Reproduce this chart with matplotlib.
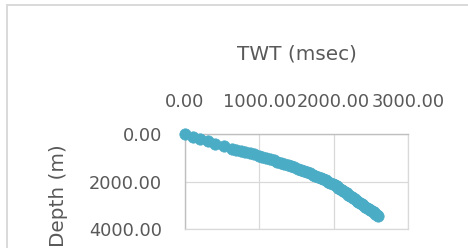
import matplotlib
matplotlib.use("Agg")
import matplotlib.pyplot as plt
from matplotlib.patches import Rectangle
from matplotlib.ticker import FormatStrFormatter

# TWT (msec) vs depth (m)
twt = [0, 101, 202, 306, 410, 518, 632, 690, 747, 808, 869, 930, 990, 1042,
       1093, 1143, 1193, 1243, 1292, 1337, 1381, 1426, 1471, 1515, 1559,
       1598, 1637, 1677, 1716, 1753, 1790, 1825, 1859, 1892, 1924, 1956,
       1987, 2013, 2039, 2062, 2084, 2107, 2130, 2153, 2175, 2198, 2220,
       2242, 2264, 2287, 2309, 2332, 2354, 2377, 2399, 2423, 2447, 2470,
       2492, 2515, 2537, 2560, 2582, 2600]
depth = [0, 100, 200, 300, 400, 500, 600, 650, 700, 750, 800, 850, 900, 950,
         1000, 1050, 1100, 1150, 1200, 1250, 1300, 1350, 1400, 1450, 1500,
         1550, 1600, 1650, 1700, 1750, 1800, 1850, 1900, 1950, 2000, 2050,
         2100, 2150, 2200, 2250, 2300, 2350, 2400, 2450, 2500, 2550, 2600,
         2650, 2700, 2750, 2800, 2850, 2900, 2950, 3000, 3050, 3100, 3150,
         3200, 3250, 3300, 3350, 3400, 3440]

x_ticks = [0, 1000, 2000, 3000]
y_ticks = [0, 2000, 4000]

plt.rcParams['font.family'] = ['DejaVu Sans']

W, H = 468, 248
fig = plt.figure(figsize=(W / 100, H / 100), dpi=100)

# chart border (light grey frame, cut off at right/bottom)
fig.patches.append(Rectangle((7.5 / W, -0.1), 1.2, 1 - 4.5 / H + 0.1,
                             transform=fig.transFigure, fill=False,
                             edgecolor='#d9d9d9', linewidth=1.4))

ax = fig.add_axes([185 / W, 1 - 229 / H, 223 / W, (229 - 134.3) / H])

ax.plot(twt, depth, 'o', color='#4bacc6', markersize=8.2,
        markeredgewidth=0.5, markeredgecolor='#4bacc6', clip_on=False, zorder=3)

ax.set_xlim(0, 3000)
ax.set_ylim(4000, 0)
ax.set_xticks(x_ticks)
ax.set_yticks(y_ticks)
ax.xaxis.set_major_formatter(FormatStrFormatter('%.2f'))
ax.yaxis.set_major_formatter(FormatStrFormatter('%.2f'))

ax.xaxis.tick_top()
ax.xaxis.set_label_position('top')
ax.tick_params(axis='x', length=0, pad=17, labelsize=12.8, labelcolor='#595959')
ax.tick_params(axis='y', length=0, pad=16.5, labelsize=12.8, labelcolor='#595959')

ax.grid(True, color='#d9d9d9', linewidth=0.9)
ax.set_axisbelow(True)
for side in ['right', 'bottom']:
    ax.spines[side].set_color('#d9d9d9')
    ax.spines[side].set_linewidth(0.9)
for side in ['left', 'top']:
    ax.spines[side].set_color('#bfbfbf')
    ax.spines[side].set_linewidth(1.0)

ax.set_xlabel('TWT (msec)', fontsize=14.4, color='#595959', labelpad=24)
ax.set_ylabel('Depth (m)', fontsize=14.4, color='#595959')
ax.yaxis.set_label_coords((68 - 185) / 223, (229 - 196) / (229 - 134.3))

fig.savefig('out.png', dpi=100)
